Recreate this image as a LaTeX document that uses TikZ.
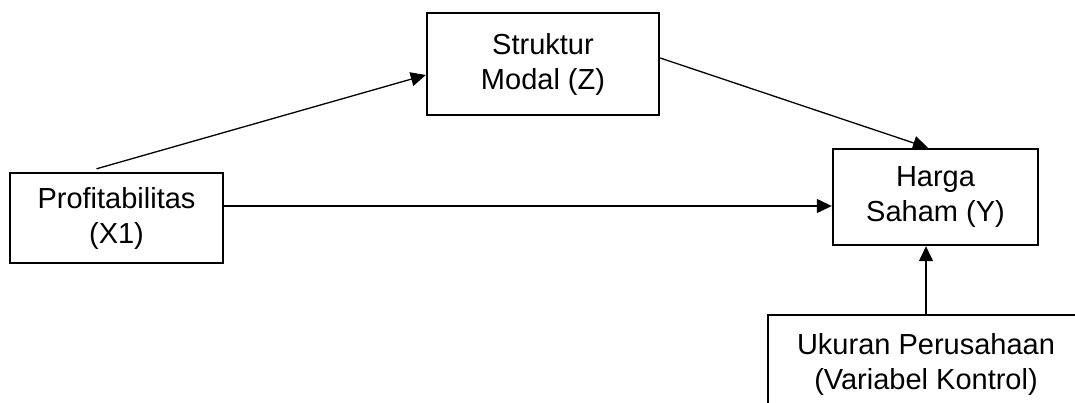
\documentclass[tikz,border=0pt]{standalone}
\usepackage{fontspec}
\setmainfont{Liberation Sans}
\usetikzlibrary{arrows.meta,calc}
\tikzset{
  vbox/.style={draw=black,line width=2.4pt,rectangle,align=center,inner sep=0pt,
    font=\fontsize{29}{35}\selectfont},
  conn/.style={line width=1.3pt,-{Triangle[length=15pt,width=14pt]}}
}
\begin{document}
\begin{tikzpicture}[x=1pt,y=-1pt]
\useasboundingbox (0,0) rectangle (1075,403);
\clip (0,0) rectangle (1075,403);
\node[vbox,minimum width=232pt,minimum height=102pt] (s) at (543,64) {Struktur\\Modal (Z)};
\node[vbox,minimum width=213pt,minimum height=90pt] (p) at (116.5,218) {Profitabilitas\\(X1)};
\node[vbox,minimum width=205pt,minimum height=96pt] (h) at (935.5,197) {Harga\\Saham (Y)};
\node[vbox,minimum width=316pt,minimum height=110pt] (u) at (926,370) {};
\node[font=\fontsize{29}{35}\selectfont,align=center,inner sep=0pt] (ut) at (926,364) {Ukuran Perusahaan\\(Variabel Kontrol)};
\draw[conn] ([xshift=-20pt,yshift=3pt]p.north) -- ([yshift=-11pt]s.west);
\draw[conn] ([yshift=6pt]s.east) -- ([xshift=-7.5pt]h.north);
\draw[conn] ([yshift=12pt]p.east) -- ([yshift=-9pt]h.west);
\draw[conn] (u.north) -- ([xshift=-9.5pt]h.south);
\end{tikzpicture}
\end{document}
